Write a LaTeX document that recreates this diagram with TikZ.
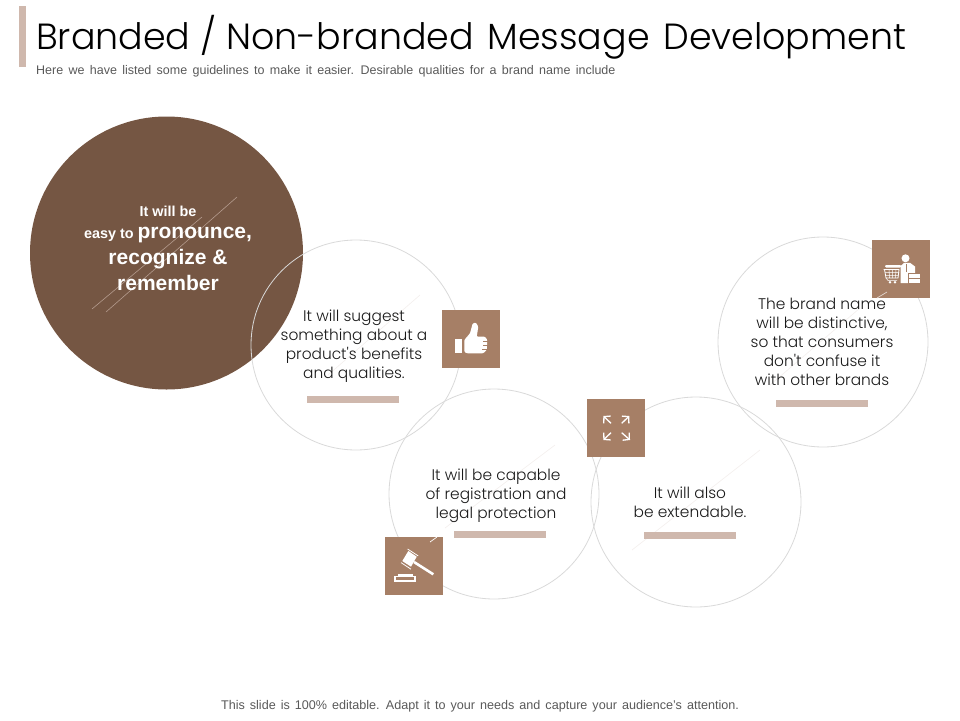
\documentclass[tikz,border=0pt]{standalone}
\usepackage{fontspec}
\setmainfont{Liberation Sans}
\newfontfamily\gothic{Poppins Light}
\usepackage{tikz}
\usetikzlibrary{arrows.meta}

\definecolor{darkbrown}{HTML}{755643}
\definecolor{midbrown}{HTML}{A67F66}
\definecolor{palebrown}{HTML}{CFB8AD}
\definecolor{ringgray}{HTML}{D9D9D9}
\definecolor{subgray}{HTML}{595959}
\definecolor{fainttone}{HTML}{F4F0EE}
\newcommand{\widewords}[1]{\spaceskip #1\relax}

\tikzset{
	ringnode/.style={shape=circle,draw=ringgray,line width=0.8pt,minimum size=210pt,inner sep=0pt},
	iconbox/.style={shape=rectangle,fill=midbrown,minimum size=58pt,inner sep=0pt},
	barnode/.style={shape=rectangle,fill=palebrown,minimum width=92pt,minimum height=7pt,inner sep=0pt},
	bodytext/.style={align=center,inner sep=0pt,text=black!90,font=\gothic\fontsize{15.4}{19}\selectfont},
	glintline/.style={draw=fainttone,line width=0.7pt},
}

\begin{document}
\begin{tikzpicture}[x=1pt,y=-1pt]
	\useasboundingbox (0,0) rectangle (960,720);
	
	\fill[palebrown] (19,6) rectangle (26,67);
	\node[anchor=base west,inner sep=0pt,font=\gothic\fontsize{36.4}{40}\selectfont,text=black] (title) at (36,49) {Branded / Non-branded\hspace{0.1em} Message\hspace{0.1em} Development};
	\node[anchor=base west,inner sep=0pt,font=\fontsize{12.5}{14}\selectfont,text=subgray] (subtitle) at (36,74) {\widewords{5.3pt}Here we have listed some guidelines to make it easier. Desirable qualities for a brand name include};
	
	\node[shape=circle,fill=darkbrown,minimum size=273pt,inner sep=0pt] (pronounce) at (166.5,253) {};
	\draw[palebrown!70!darkbrown,line width=0.6pt] (92,309) -- (202,217);
	\draw[palebrown!70!darkbrown,line width=0.6pt] (106,312) -- (237,197);
	
	\node[ringnode] (suggest) at (356,345) {};
	\node[ringnode] (capable) at (494,494) {};
	\node[ringnode] (extend) at (696,502) {};
	\node[ringnode] (distinct) at (823,342) {};
	
	\draw[glintline] (328,375) -- (420,295);
	\draw[glintline] (632,550) -- (760,450);
	\draw[glintline] (770,385) -- (860,308);
	\draw[glintline] (445,528) -- (555,445);
	
	\node[iconbox] (thumbbox) at (471,339) {};
	\node[iconbox] (shopbox) at (901,269) {};
	\node[iconbox] (arrowbox) at (616,428) {};
	\node[iconbox] (gavelbox) at (414,566) {};
	
	\draw[white,line width=0.7pt] (430,542) -- (437,537);
	\draw[white!70!midbrown,line width=0.7pt] (877,298) -- (887,292);
	
	\node[barnode] (suggestbar) at (353,399.5) {};
	\node[barnode] (capablebar) at (500,534.5) {};
	\node[barnode] (extendbar) at (690,535) {};
	\node[barnode] (distinctbar) at (822,403.5) {};
	
	\node[align=center,inner sep=0pt,text=white,font=\bfseries\fontsize{14.4}{26}\selectfont] (easytext) at (168,248.5) {It will be\\[-4pt]easy to {\fontsize{21}{26}\selectfont pronounce,}\\{\fontsize{21}{26}\selectfont recognize \&}\\{\fontsize{21}{26}\selectfont remember}};
	\node[bodytext] (suggesttext) at (354,346) {It will suggest\\something about a\\product's benefits\\and qualities.};
	\node[bodytext] (capabletext) at (496,496) {It will be capable\\of registration and\\legal protection};
	\node[bodytext] (extendtext) at (690,502) {It will also\\be extendable.};
	\node[bodytext] (distincttext) at (822,342) {The brand name\\will be distinctive,\\so that consumers\\don't confuse it\\with other brands};
	
	% thumb
	\fill[white] (455,339.3) rectangle (461.7,352.7);
	\fill[white,rounded corners=1pt] (464.3,340) -- (470,333.3) -- (472.7,323.3) -- (476,322.7) -- (478.3,326.7) -- (476.7,336.7) -- (485,336.7) -- (487.3,340) -- (486.7,350) -- (483.3,353.3) -- (466.7,353.3) -- (464.3,351.7) -- cycle;
	\draw[midbrown,line width=0.4pt] (483,341) -- (487.5,341) (483,345.5) -- (487.5,345.5) (482,349.5) -- (487,349.5);
	
	% shop
	\fill[white] (905.5,258.3) circle (4);
	\fill[white] (900.7,283) -- (900.7,266) -- (904,262.8) -- (910,262.8) -- (915,266.5) -- (915,283) -- cycle;
	\draw[midbrown,line width=0.5pt] (906,264) -- (906,272);
	\draw[midbrown,line width=0.7pt,fill=white] (908.5,273.5) rectangle (920.5,283.5);
	\draw[midbrown,line width=0.7pt] (908.5,278) -- (920.5,278);
	\fill[white,rounded corners=1pt] (885,265) rectangle (901,267.5);
	\draw[white,line width=0.8pt] (883.5,269.5) -- (899,269.5) -- (898,278) -- (886,278) -- (884.5,269.5);
	\draw[white,line width=0.5pt] (885,272.5) -- (899,272.5) (885.5,275.3) -- (898.5,275.3) (889,269.5) -- (889.5,278) (892.5,269.5) -- (892.5,278) (896,269.5) -- (895.5,278);
	\draw[white,line width=0.5pt] (886,278) -- (888,280.5) -- (897,280.5);
	\fill[white] (890,282.3) circle (1.4) (895,282.3) circle (1.4);
	
	% arrows
	\path[-{Straight Barb[length=4.5pt,width=10pt]}, white, line width=1.3pt]
		(611,423.3) edge (603.3,416)
		(621.7,423.3) edge (629.3,416)
		(611,432.7) edge (603.3,440)
		(621.7,432.7) edge (630,440);
	
	% gavel
	\fill[white] (408.3,551) -- (416.7,556.7) -- (411,566.7) -- (402.3,561) -- cycle;
	\draw[white,line width=0.8pt] (407.6,549) -- (418.2,555.9) (401,562.6) -- (411,569.2);
	\draw[white,line width=2.6pt] (414,562) -- (433.3,574.3);
	\draw[white,line width=1.1pt] (395,576.9) rectangle (415,581);
	\fill[white] (398.3,574.3) rectangle (413.3,576.7);
	
	\node[anchor=base,inner sep=0pt,font=\fontsize{12.6}{14}\selectfont,text=subgray] (footer) at (480,709) {\widewords{5pt}This slide is 100\% editable. Adapt it to your needs and capture your audience's attention.};

\end{tikzpicture}
\end{document}
